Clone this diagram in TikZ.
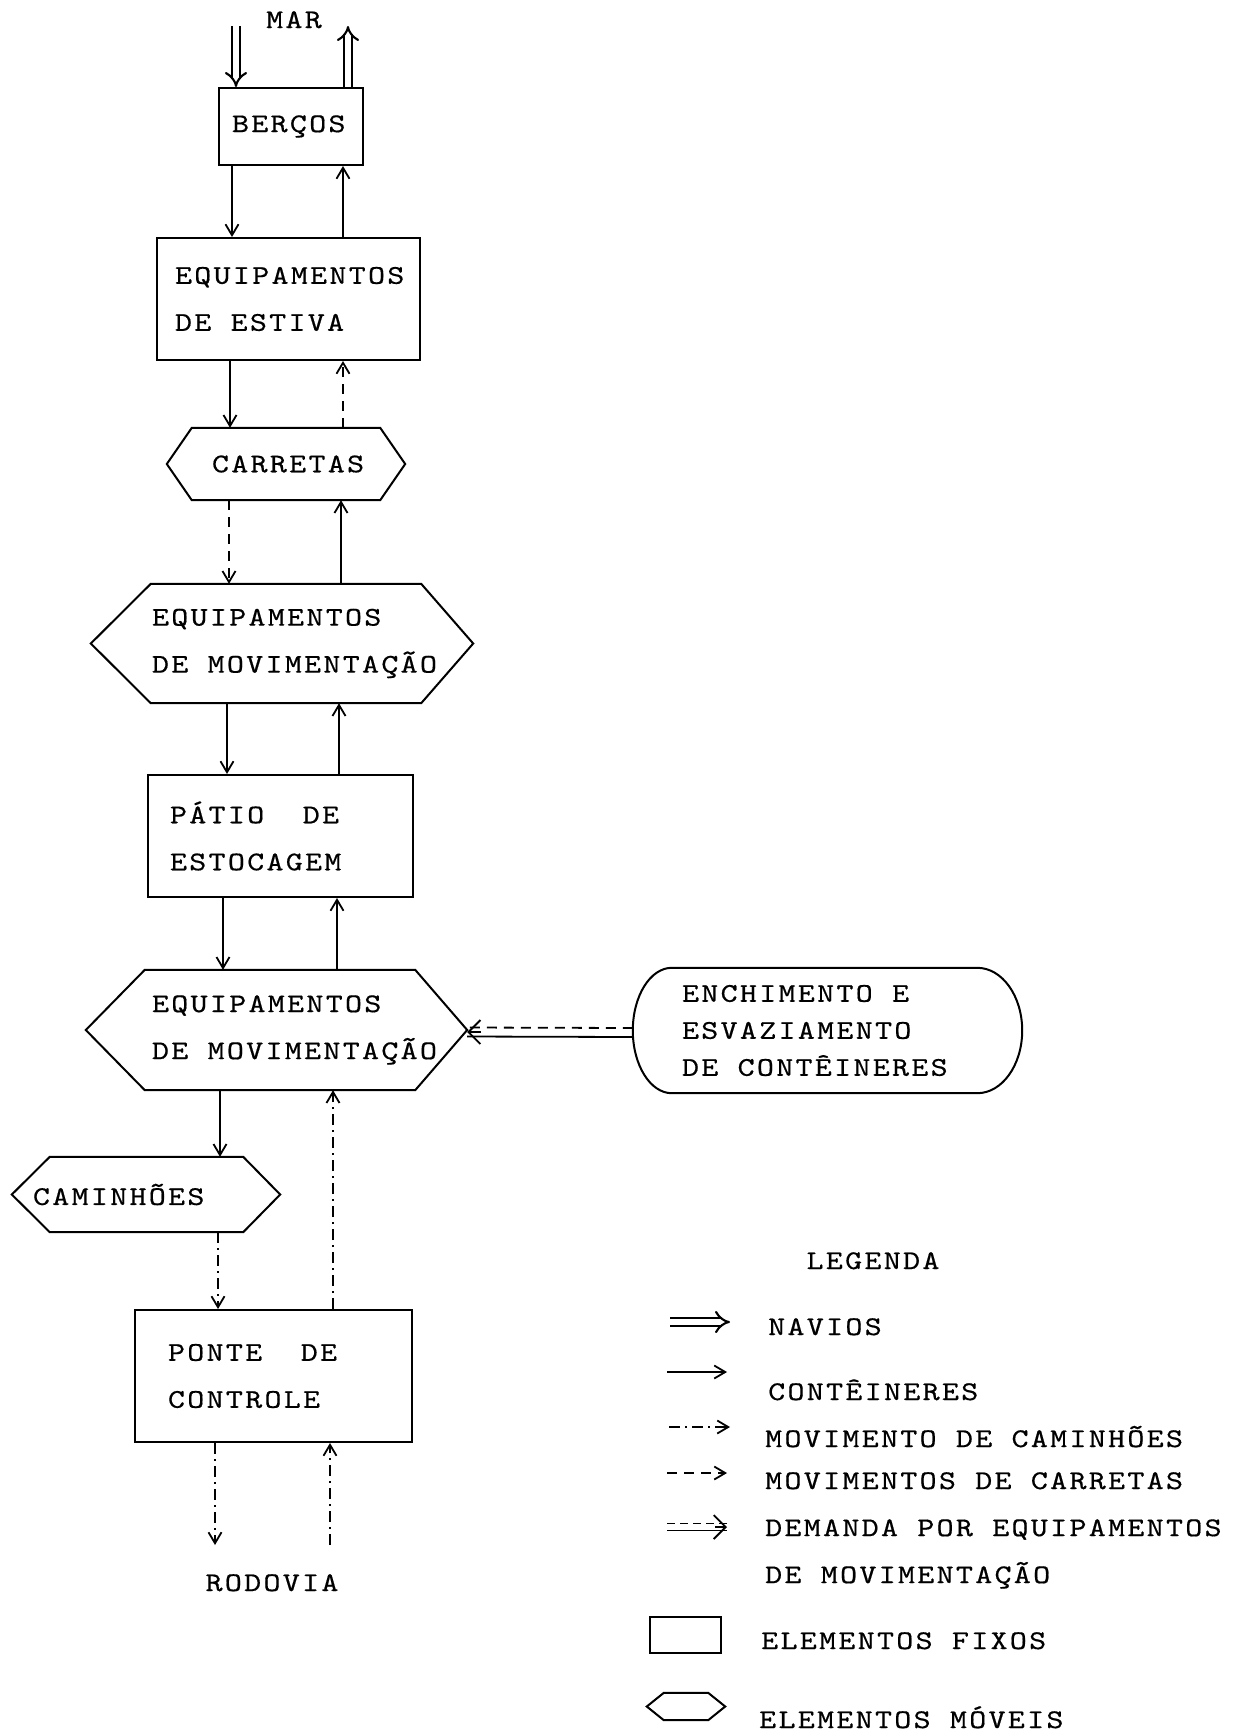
\documentclass[tikz,border=0pt]{standalone}
\usepackage{fontspec}
\usetikzlibrary{arrows.meta}
\newfontfamily\twmain{lmmono10-regular.otf}[LetterSpace=8.5,FakeStretch=1.2,FakeBold=0.5]
\newcommand\maintxt{\twmain\fontsize{27pt}{47pt}\selectfont}
\newcommand\enctxt{\twmain\fontsize{27pt}{37pt}\selectfont}
\newcommand\lline[1]{\makebox[0pt][l]{#1}}
% fixed typewriter space between words
\newcommand\tsp{\hspace*{19.3pt}}
% outline of a mobile element: flat top and bottom taken from the node, pointed ends
\newcommand\movelout[3]{%
  \draw[outline] (#1.north west) -- (#1.north east) -- ([xshift=#3]#1.east)
    -- (#1.south east) -- (#1.south west) -- ([xshift=-#2]#1.west) -- cycle;}

\begin{document}
\begin{tikzpicture}[x=1pt,y=-1pt,
  outline/.style={line width=2pt,line join=miter},
  fixo/.style={draw,line width=2pt,inner ysep=0pt,align=left,font=\maintxt},
  movel/.style={inner ysep=0pt,align=left,font=\maintxt},
  lbl/.style={inner sep=0pt,font=\maintxt},
  leglbl/.style={inner sep=0pt,font=\maintxt,anchor=base west},
  cont/.style={line width=1.8pt,-{Straight Barb[length=11pt,width=13pt]}},
  carr/.style={cont,dash pattern=on 10pt off 7pt},
  truck/.style={cont,dash pattern=on 11pt off 5pt on 2pt off 5pt},
  ship/.style={line width=2.1pt,double,double distance=5.5pt,-{Implies[length=9pt,width=20pt]}},
  plain/.style={line width=1.8pt},
  demhead/.style={line width=1.8pt,-{Straight Barb[length=12pt,width=24pt]}},
]
\fill[white] (0,0) rectangle (1240,1735);
\useasboundingbox (0,0) rectangle (1240,1735);

% ---------- elements ----------
\node[lbl,anchor=base] (mar) at (294,28) {MAR};
\node[fixo,minimum width=144pt,minimum height=77pt,text width=118pt,inner xsep=13pt]
  (berc) at (291,126.5) {\lline{BERÇOS}};
\node[fixo,minimum width=263pt,minimum height=122pt,text width=227pt,inner xsep=18pt]
  (estiva) at (288.5,299) {\lline{EQUIPAMENTOS}\\\lline{DE\tsp ESTIVA}};
\node[movel,minimum width=188pt,minimum height=72pt,text width=148pt,inner xsep=20pt]
  (carretas) at (286,464) {\lline{CARRETAS}};
\node[movel,minimum width=270pt,minimum height=119pt,text width=268pt,inner xsep=1pt]
  (mov1) at (286,643.5) {\lline{EQUIPAMENTOS}\\\lline{DE\tsp MOVIMENTAÇÃO}};
\node[fixo,minimum width=265pt,minimum height=122pt,text width=221pt,inner xsep=22pt]
  (patio) at (280.5,836) {\lline{PÁTIO\tsp\tsp DE}\\\lline{ESTOCAGEM}};
\node[movel,minimum width=270pt,minimum height=120pt,text width=256pt,inner xsep=7pt]
  (mov2) at (280,1030) {\lline{EQUIPAMENTOS}\\\lline{DE\tsp MOVIMENTAÇÃO}};
\node[movel,minimum width=193pt,minimum height=75pt,text width=193pt,inner xsep=0pt]
  (cam) at (146.5,1194.5) {\lline{\hspace*{-17pt}CAMINHÕES}};
\node[fixo,minimum width=277pt,minimum height=132pt,text width=211pt,inner xsep=33pt]
  (ponte) at (273.5,1376) {\lline{PONTE\tsp\tsp DE}\\\lline{CONTROLE}};
\node[movel,font=\enctxt,minimum width=389pt,minimum height=125pt,text width=291pt,inner xsep=49pt]
  (enc) at (827.5,1030.5) {\lline{ENCHIMENTO\tsp E}\\\lline{ESVAZIAMENTO}\\\lline{DE\tsp CONTÊINERES}};
\node[lbl,anchor=base] (rod) at (272,1591) {RODOVIA};

% outlines of the mobile elements
\movelout{carretas}{25pt}{25pt}
\movelout{mov1}{60pt}{52pt}
\movelout{mov2}{59pt}{52pt}
\movelout{cam}{38pt}{37pt}

% rounded outline of the filling / emptying area
\draw[outline] ([xshift=39pt]enc.north west) -- ([xshift=-45pt]enc.north east)
  .. controls ([xshift=-20pt]enc.north east) and ([yshift=34.5pt]enc.east) .. (enc.east)
  .. controls ([yshift=-34.5pt]enc.east) and ([xshift=-20pt]enc.south east) .. ([xshift=-45pt]enc.south east)
  -- ([xshift=39pt]enc.south west)
  .. controls ([xshift=17.5pt]enc.south west) and ([yshift=-34.5pt]enc.west) .. (enc.west)
  .. controls ([yshift=34.5pt]enc.west) and ([xshift=17.5pt]enc.north west) .. ([xshift=39pt]enc.north west);

% ---------- flows ----------
% ships from and to the sea
\coordinate (seain) at (236,26);
\coordinate (seaout) at ([xshift=57pt]berc.north);
\draw[ship] (seain) -- (seain |- berc.north);
\draw[ship] (seaout) -- (seaout |- seain);

% berths <-> stevedoring equipment
\coordinate (a1) at ([xshift=-59pt]berc.south);
\coordinate (b1) at ([xshift=52pt]berc.south);
\draw[cont] (a1) -- (a1 |- estiva.north);
\draw[cont] (b1 |- estiva.north) -- (b1);

% stevedoring equipment <-> trailers
\coordinate (a2) at ([xshift=-58.5pt]estiva.south);
\coordinate (b2) at ([xshift=54.5pt]estiva.south);
\draw[cont] (a2) -- (a2 |- carretas.north);
\draw[carr] (b2 |- carretas.north) -- (b2);

% trailers <-> handling equipment
\coordinate (a3) at ([xshift=-57pt]carretas.south);
\coordinate (b3) at ([xshift=55pt]carretas.south);
\draw[carr] (a3) -- (a3 |- mov1.north);
\draw[cont] (b3 |- mov1.north) -- (b3);

% handling equipment <-> storage yard
\coordinate (a4) at ([xshift=-59pt]mov1.south);
\coordinate (b4) at ([xshift=53pt]mov1.south);
\draw[cont] (a4) -- (a4 |- patio.north);
\draw[cont] (b4 |- patio.north) -- (b4);

% storage yard <-> handling equipment
\coordinate (a5) at ([xshift=-57.5pt]patio.south);
\coordinate (b5) at ([xshift=56.5pt]patio.south);
\draw[cont] (a5) -- (a5 |- mov2.north);
\draw[cont] (b5 |- mov2.north) -- (b5);

% handling equipment -> trucks, trucks -> gate, gate -> handling equipment
\coordinate (a6) at ([xshift=-60pt]mov2.south);
\draw[cont] (a6) -- (a6 |- cam.north);
\coordinate (a7) at ([xshift=71.5pt]cam.south);
\draw[truck] (a7) -- (a7 |- ponte.north);
\coordinate (b6) at ([xshift=59.5pt]ponte.north);
\draw[truck] (b6) -- (b6 |- mov2.south);

% gate <-> highway
\coordinate (roadout) at (215,1545);
\coordinate (roadin) at (330,1545);
\draw[truck] ([xshift=-58.5pt]ponte.south) -- (roadout);
\draw[truck] (roadin) -- (roadin |- ponte.south);

% demand for handling equipment
\coordinate (dtip) at ([xshift=52pt]mov2.east);
\draw[plain,dash pattern=on 10pt off 7pt] ([yshift=2.5pt]enc.west) -- ([yshift=2.5pt]dtip);
\draw[plain] ([yshift=-6.5pt]enc.west) -- ([yshift=-6.5pt]dtip);
\draw[demhead] ([xshift=14pt,yshift=-2pt]dtip) -- ([yshift=-2pt]dtip);

% ---------- legend ----------
\node[leglbl,anchor=base] (legtitle) at (873,1269) {LEGENDA};

\coordinate (k1a) at (670,1322); \coordinate (k1b) at (730,1322);
\draw[ship] (k1a) -- (k1b);
\node[leglbl] (k1t) at (768,1335) {NAVIOS};

\coordinate (k2a) at (667,1372); \coordinate (k2b) at (727,1372);
\draw[cont] (k2a) -- (k2b);
\node[leglbl] (k2t) at (768,1400) {CONTÊINERES};

\coordinate (k3a) at (669,1427); \coordinate (k3b) at (730,1427);
\draw[truck] (k3a) -- (k3b);
\node[leglbl] (k3t) at (765,1447) {MOVIMENTO\tsp DE\tsp CAMINHÕES};

\coordinate (k4a) at (667,1473); \coordinate (k4b) at (727,1473);
\draw[carr] (k4a) -- (k4b);
\node[leglbl] (k4t) at (765,1489) {MOVIMENTOS\tsp DE\tsp CARRETAS};

\coordinate (k5a) at (667,1527); \coordinate (k5b) at (727,1527);
\draw[plain,dash pattern=on 8pt off 5pt] ([yshift=3.5pt]k5a) -- ([yshift=3.5pt]k5b);
\draw[plain] ([yshift=-3.5pt]k5a) -- ([yshift=-3.5pt]k5b);
\draw[demhead] ([xshift=-12pt]k5b) -- (k5b);
\node[leglbl,anchor=west,align=left] (k5t) at (765,1554) {DEMANDA\tsp POR\tsp EQUIPAMENTOS\\DE\tsp MOVIMENTAÇÃO};

\node[draw,line width=2pt,minimum width=71pt,minimum height=36pt,inner sep=0pt] (kfix) at (685.5,1635) {};
\node[leglbl] (k6t) at (761,1649) {ELEMENTOS\tsp FIXOS};

\node[inner sep=0pt,minimum width=44pt,minimum height=27pt] (kmov) at (686,1706.5) {};
\movelout{kmov}{17pt}{17pt}
\node[leglbl] (k7t) at (759,1728) {ELEMENTOS\tsp MÓVEIS};
\end{tikzpicture}
\end{document}
